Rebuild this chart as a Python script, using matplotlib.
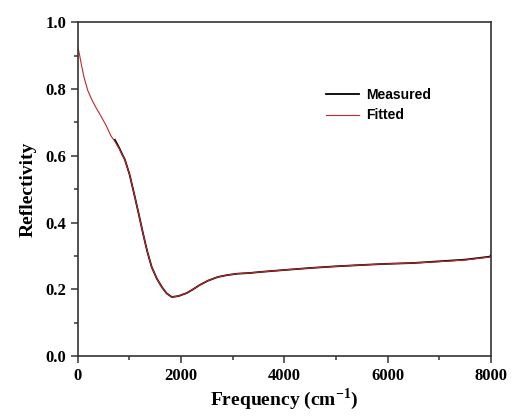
import numpy as np
import matplotlib.pyplot as plt
from matplotlib.ticker import MultipleLocator

plt.rcParams['mathtext.fontset'] = 'custom'
plt.rcParams['mathtext.rm'] = 'Liberation Serif:bold'

# fitted curve
fit_freq = [0, 30, 70, 120, 194, 280, 360, 451, 550, 640, 717, 800, 870, 910, 1000, 1104, 1180,
            1260, 1340, 1430, 1530, 1627, 1720, 1820, 1950, 2110, 2230, 2360, 2520, 2710, 2900,
            3100, 3330, 3525, 4000, 4500, 5000, 5500, 5910, 6500, 7000, 7500, 7980, 8000]
fit_refl = [0.925, 0.905, 0.872, 0.835, 0.795, 0.765, 0.742, 0.718, 0.69, 0.66, 0.643, 0.622,
            0.60, 0.589, 0.545, 0.477, 0.425, 0.369, 0.316, 0.267, 0.232, 0.207, 0.188, 0.177,
            0.180, 0.189, 0.200, 0.213, 0.226, 0.237, 0.243, 0.247, 0.249, 0.252, 0.258, 0.264,
            0.269, 0.273, 0.276, 0.279, 0.283, 0.288, 0.297, 0.299]

# measured curve starts near 700 cm-1
meas_freq = fit_freq[10:]
meas_refl = [0.648, 0.624, 0.601, 0.589, 0.545, 0.477, 0.425, 0.369, 0.316, 0.267, 0.232,
             0.207, 0.188, 0.177, 0.180, 0.189, 0.200, 0.213, 0.226, 0.237, 0.243, 0.247,
             0.249, 0.252, 0.258, 0.264, 0.269, 0.273, 0.276, 0.279, 0.284, 0.289, 0.298, 0.303]

fig = plt.figure(figsize=(5.12, 4.19), dpi=100)
ax = fig.add_axes([0.152, 0.150, 0.807, 0.797])

ax.plot(meas_freq, meas_refl, color='black', lw=1.3, label='Measured')
ax.plot(fit_freq, fit_refl, color='#c0282a', lw=0.8, label='Fitted')

ax.set_xlim(0, 8000)
ax.set_ylim(0, 1.0)
ax.xaxis.set_major_locator(MultipleLocator(2000))
ax.xaxis.set_minor_locator(MultipleLocator(1000))
ax.yaxis.set_major_locator(MultipleLocator(0.2))
ax.yaxis.set_minor_locator(MultipleLocator(0.1))
ax.yaxis.set_major_formatter(plt.FormatStrFormatter('%.1f'))

for s in ax.spines.values():
    s.set_linewidth(1.2)
    s.set_color('#333333')
ax.tick_params(which='both', direction='out', color='#333333', width=1.1)
ax.tick_params(which='major', length=5)
ax.tick_params(which='minor', length=3)
for lab in ax.get_xticklabels() + ax.get_yticklabels():
    lab.set_fontfamily('Liberation Serif')
    lab.set_fontweight('bold')
    lab.set_fontsize(12)

ax.set_xlabel('Frequency (cm$^{-1}$)', family='Liberation Serif', weight='bold', fontsize=14,
              labelpad=2)
ax.set_ylabel('Reflectivity', family='Liberation Serif', weight='bold', fontsize=14, labelpad=6)

leg = ax.legend(loc='upper left', bbox_to_anchor=(0.57, 0.84), frameon=False,
                prop={'family': 'Liberation Sans', 'weight': 'bold', 'size': 10},
                handlelength=2.4, handletextpad=0.5, labelspacing=0.45)

fig.savefig('out.png', dpi=100)
